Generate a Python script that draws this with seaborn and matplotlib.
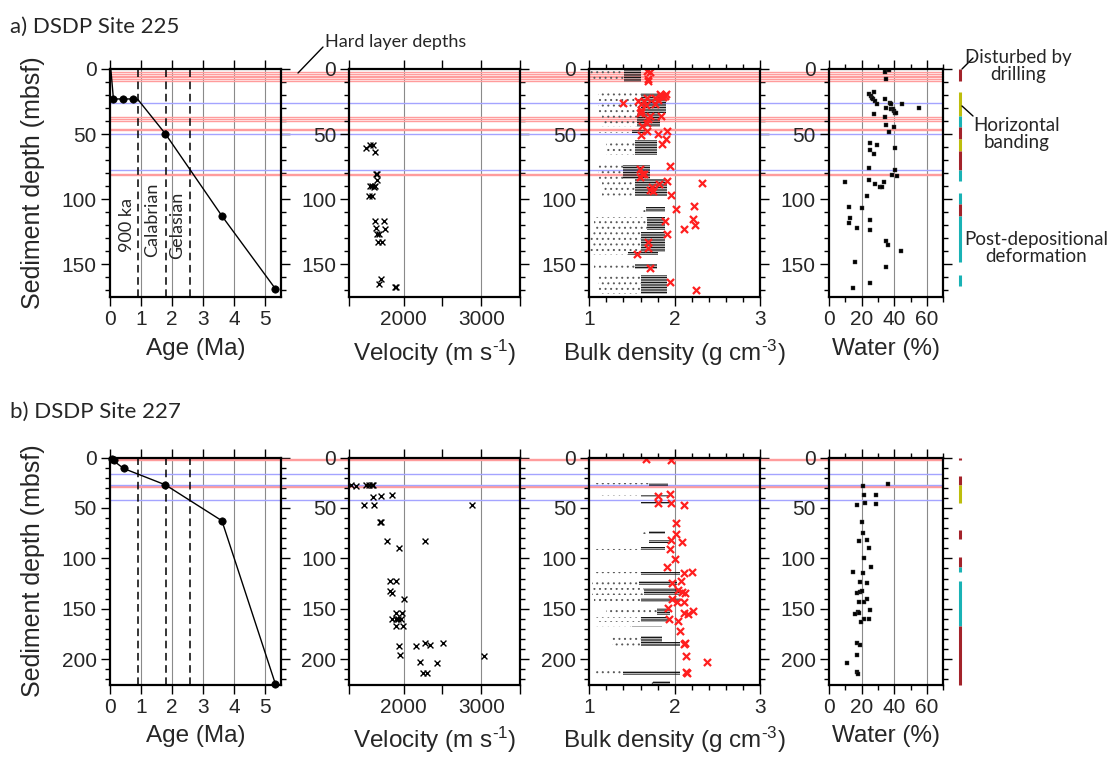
import matplotlib
matplotlib.use("Agg")
import numpy as np
import matplotlib.pyplot as plt
import seaborn as sns
from matplotlib.lines import Line2D
from matplotlib.ticker import FixedLocator, MultipleLocator

# ---------------- data ----------------
# hard layer depths (m)
hard_red_a = [2.0, 3.5, 5.0, 6.5, 8.0, 9.5, 37.2, 38.5, 39.7, 45.8, 46.8, 80.5, 81.5]
hard_blue_a = [26.0, 49.7, 77.5]
hard_red_b = [1.2, 2.0, 28.0, 28.8]
hard_blue_b = [16.0, 27.0, 42.3]

# age-depth model
age_line_a = [0.0, 0.03, 0.11, 0.43, 0.75, 0.9, 1.78, 3.6, 5.32]
agedep_line_a = [0.0, 1.0, 23.0, 23.0, 23.0, 23.5, 49.7, 112.8, 168.7]
age_pts_a = [0.11, 0.43, 0.75, 1.78, 3.6, 5.32]
agedep_pts_a = [23.0, 23.0, 23.0, 49.7, 112.8, 168.7]
age_line_b = [0.0, 0.09, 0.44, 1.78, 3.6, 5.32]
agedep_line_b = [0.0, 2.7, 10.9, 27.1, 62.7, 224.5]
age_pts_b = [0.06, 0.12, 0.44, 1.78, 3.6, 5.32]
agedep_pts_b = [1.8, 2.7, 10.9, 27.1, 62.7, 224.5]
stage_ages = [0.9, 1.8, 2.58]
stage_names = ["900 ka", "Calabrian", "Gelasian"]

# velocity (m/s)
vel_a = [1520, 1571, 1605, 1627, 1640, 1657, 1657, 1563, 1597, 1631, 1614, 1554, 1597,
         1627, 1743, 1640, 1765, 1657, 1683, 1670, 1726, 1713, 1683, 1884, 1897]
veldep_a = [60.3, 58.0, 58.0, 63.8, 80.3, 80.3, 85.4, 89.8, 89.8, 89.8, 90.5, 97.5, 97.5,
            117.0, 117.0, 122.0, 122.5, 126.4, 126.4, 133.0, 132.5, 161.0, 165.0, 167.0, 167.0]
vel_b = [1327, 1391, 1511, 1554, 1588, 1606, 1485, 1606, 1623, 1713, 1846, 1691, 1713, 1781,
         1940, 2279, 2884, 1820, 1901, 1820, 1849, 2004, 1897, 1974, 1854, 1897, 1931, 1966,
         1906, 1996, 1940, 2163, 2279, 2339, 2506, 1949, 3038, 2206, 2434, 2249, 2296]
veldep_b = [27.2, 28.0, 27.0, 27.0, 27.0, 27.0, 46.7, 38.8, 47.5, 37.8, 37.1, 63.9, 63.9, 82.3,
            89.3, 83.0, 46.7, 122.6, 122.0, 132.0, 134.5, 140.4, 154.3, 154.3, 160.2, 160.2,
            160.2, 160.2, 167.5, 167.5, 187.3, 187.3, 183.4, 186.3, 183.4, 195.5, 196.5, 202.8,
            203.8, 213.7, 213.7]

# bulk density: discrete samples (red crosses)
rho_a = [1.68, 1.71, 1.69, 1.69, 1.83, 1.86, 1.89, 1.84, 1.90, 1.77, 1.81, 1.68, 1.64, 1.60,
         1.57, 1.39, 1.66, 1.77, 1.60, 1.60, 1.59, 1.71, 1.84, 1.69, 1.68, 1.62, 1.68, 1.60,
         1.81, 1.91, 1.90, 1.85, 1.94, 1.59, 1.62, 1.59, 1.64, 1.82, 1.91, 1.73, 1.71, 1.75,
         2.32, 1.96, 2.23, 2.01, 2.22, 2.24, 2.11, 1.89, 1.91, 1.69, 1.69, 1.56, 1.71, 1.94, 2.25]
rhodep_a = [1.3, 2.3, 7.9, 9.2, 19.2, 21.3, 20.8, 20.5, 19.2, 22.6, 23.8, 22.6, 24.4, 26.9,
            24.4, 25.9, 27.7, 26.9, 31.5, 32.8, 34.0, 36.2, 36.2, 38.7, 41.3, 43.8, 47.7, 50.8,
            50.0, 47.7, 53.8, 57.2, 74.6, 76.4, 80.8, 82.8, 80.8, 87.9, 85.9, 90.5, 92.5, 93.8,
            87.2, 96.7, 105.4, 107.7, 114.9, 119.5, 122.5, 117.0, 126.4, 132.8, 137.4, 141.8,
            152.8, 163.6, 169.5]
rho_b = [1.66, 1.96, 1.81, 1.95, 1.81, 1.96, 2.11, 2.02, 2.01, 1.96, 2.09, 1.95, 2.00, 1.91,
         2.11, 2.20, 2.07, 1.97, 2.04, 2.09, 2.12, 1.97, 2.03, 2.11, 1.92, 2.11, 2.16, 2.22,
         1.93, 2.04, 2.06, 2.11, 2.12, 2.13, 2.38, 2.13, 2.14]
rhodep_b = [1.5, 2.5, 37.8, 36.4, 45.3, 45.3, 47.3, 64.5, 75.7, 81.7, 83.7, 90.3, 100.2, 108.1,
            114.0, 113.4, 122.3, 124.6, 131.2, 133.8, 134.5, 140.4, 142.8, 142.8, 149.3, 154.3,
            155.2, 152.3, 159.9, 161.6, 171.5, 185.0, 184.0, 196.5, 202.5, 212.5, 214.0]

# bulk density: continuous GRA log summarised per core section
core_top_a = [0.3, 18.7, 34.0, 46.5, 54.6, 73.8, 84.1, 105.9, 113.6, 125.0, 140.5, 149.5, 158.4]
core_bot_a = [9.7, 34.0, 44.5, 49.0, 66.2, 84.1, 97.5, 109.7, 123.9, 140.5, 143.0, 153.3, 172.6]
core_lo_a = [1.41, 1.60, 1.56, 1.50, 1.53, 1.40, 1.53, 1.67, 1.68, 1.60, 1.45, 1.53, 1.60]
core_hi_a = [1.60, 1.90, 1.83, 1.70, 1.79, 1.71, 1.91, 1.89, 1.89, 1.89, 1.80, 1.79, 1.91]
core_tail_a = [1.00, 1.10, 1.15, 1.10, 1.20, 1.10, 1.15, 1.60, 1.05, 1.00, 1.00, 1.05, 1.10]
core_top_b = [25.6, 36.8, 43.7, 72.5, 81.7, 88.3, 113.0, 122.9, 129.5, 139.4, 149.3, 157.6,
              167.0, 176.7, 183.3, 212.0, 222.0]
core_bot_b = [28.5, 39.4, 46.0, 75.7, 84.3, 91.6, 116.0, 126.2, 136.1, 143.7, 155.9, 162.6,
              168.4, 183.3, 187.0, 215.3, 225.0]
core_lo_b = [1.70, 1.60, 1.60, 1.70, 1.70, 1.60, 1.60, 1.58, 1.64, 1.60, 1.79, 1.60, 1.50,
             1.60, 1.60, 1.40, 1.75]
core_hi_b = [1.92, 1.94, 1.95, 1.89, 1.96, 1.89, 2.06, 2.03, 2.06, 2.06, 1.95, 1.92, 1.85,
             1.85, 2.06, 2.06, 1.95]
core_tail_b = [1.07, 1.10, 1.07, 1.60, 1.50, 1.05, 1.05, 1.03, 1.03, 1.05, 1.20, 1.08, 1.05,
               1.24, 1.27, 1.05, 1.70]

# water content (%)
water_a = [34.5, 36.5, 35.1, 27.7, 24.8, 25.6, 26.3, 26.9, 28.1, 29.7, 34.5, 37.1, 37.9, 35.1,
           37.9, 39.2, 40.0, 40.6, 41.2, 44.7, 55.0, 27.7, 34.5, 35.1, 39.6, 36.5, 25.2, 29.4,
           25.2, 27.7, 40.6, 24.8, 40.6, 41.6, 38.6, 24.8, 28.3, 31.4, 32.4, 33.4, 9.8, 23.2,
           12.5, 20.3, 12.9, 12.5, 17.0, 25.2, 25.2, 35.1, 35.9, 44.3, 16.0, 35.1, 25.2, 15.0]
waterdep_a = [2.0, 0.5, 7.7, 17.7, 19.5, 20.8, 22.6, 23.1, 24.6, 26.9, 23.3, 25.9, 26.9, 30.3,
              30.8, 30.8, 32.0, 33.6, 34.1, 26.7, 29.8, 34.6, 36.7, 43.1, 44.9, 48.5, 56.7,
              58.5, 61.8, 65.1, 60.5, 76.2, 77.9, 82.1, 81.5, 84.9, 88.5, 90.2, 90.2, 87.0,
              87.0, 97.2, 105.9, 106.7, 114.4, 118.2, 122.1, 116.2, 123.3, 131.8, 135.4, 139.7,
              148.5, 151.8, 164.1, 167.9]
water_b = [35.9, 20.7, 21.7, 28.5, 22.3, 28.9, 17.4, 20.3, 21.1, 18.5, 23.2, 24.2, 21.5, 25.6,
           15.0, 20.7, 19.1, 23.2, 17.4, 19.1, 20.1, 18.3, 21.5, 23.4, 25.2, 17.8, 18.3, 16.2,
           21.7, 24.8, 19.7, 17.4, 18.9, 17.0, 10.9, 17.4, 17.8]
waterdep_b = [26.5, 28.2, 37.1, 37.4, 45.4, 45.7, 47.0, 63.5, 74.4, 83.0, 82.0, 89.9, 99.2,
              108.4, 113.7, 114.7, 123.0, 124.6, 134.2, 133.5, 131.9, 142.8, 143.1, 140.4,
              151.0, 153.0, 154.0, 155.6, 160.2, 160.2, 162.6, 184.0, 186.3, 196.2, 203.2,
              213.1, 214.4]

# core observations (depth intervals)
obs_top_a = [0.3, 17.9, 36.2, 44.4, 54.1, 62.8, 77.2, 94.9, 103.3, 112.8, 158.0]
obs_bot_a = [9.3, 36.2, 44.4, 54.1, 62.8, 77.2, 85.9, 103.3, 112.8, 148.2, 166.2]
obs_kind_a = ["drill", "band", "post", "drill", "band", "drill", "post", "post", "drill", "post", "post"]
obs_top_b = [0.2, 18.0, 27.2, 71.8, 98.8, 108.1, 122.0, 166.8]
obs_bot_b = [2.5, 27.2, 44.7, 80.7, 108.1, 113.1, 166.8, 225.0]
obs_kind_b = ["drill", "drill", "band", "drill", "drill", "post", "post", "drill"]
obs_colors = {"drill": "#a3232a", "band": "#bdbd0c", "post": "#19b2b5"}

# ---------------- style ----------------
sns.set_style("ticks")
plt.rcParams["font.family"] = ["Liberation Sans", "DejaVu Sans"]
plt.rcParams["mathtext.fontset"] = "custom"
plt.rcParams["mathtext.rm"] = "Liberation Sans"
plt.rcParams["mathtext.it"] = "Liberation Sans:italic"
plt.rcParams["mathtext.bf"] = "Liberation Sans:bold"
plt.rcParams["hatch.linewidth"] = 0.7
SOFT = ["Lato", "DejaVu Sans"]

W, H = 1107, 758
fig = plt.figure(figsize=(W / 100, H / 100), dpi=100)
col_px = [(110, 171), (349.3, 170.7), (589.3, 170.7), (829, 114.3)]
row_px = [(69, 228), (457.5, 227)]


def fx(x):
    return x / W


def fy(y):
    return 1 - y / H


def make_ax(c, r):
    l, w = col_px[c]
    t, h = row_px[r]
    return fig.add_axes([l / W, 1 - (t + h) / H, w / W, h / H])


def style(ax, ymax, xlim, xmajor, xlabels, xminor, grid, xlabel):
    ax.set_xlim(*xlim)
    ax.set_ylim(ymax, 0)
    ax.xaxis.set_major_locator(FixedLocator(xmajor))
    ax.set_xticklabels(xlabels)
    ax.xaxis.set_minor_locator(FixedLocator(xminor))
    ax.yaxis.set_major_locator(MultipleLocator(50))
    ax.yaxis.set_minor_locator(MultipleLocator(10))
    ax.tick_params(which="both", direction="out", top=True, right=True, bottom=True,
                   left=True, width=1.0, color="black", labelsize=15, pad=3)
    ax.tick_params(which="major", length=6.5)
    ax.tick_params(which="minor", length=3.5)
    for g in grid:
        ax.axvline(g, color="#8a8a8a", lw=0.8, zorder=0.5)
    for s in ax.spines.values():
        s.set_linewidth(1.6)
        s.set_color("black")
        s.set_zorder(5)
    ax.set_ylabel("")
    ax.set_xlabel(xlabel, fontsize=17.5, labelpad=6)


rows = [
    dict(ymax=175, reds=hard_red_a, blues=hard_blue_a, al=age_line_a, ad=agedep_line_a,
         ap=age_pts_a, apd=agedep_pts_a, v=vel_a, vd=veldep_a, r=rho_a, rd=rhodep_a,
         ct=core_top_a, cb=core_bot_a, clo=core_lo_a, chi=core_hi_a, ctl=core_tail_a,
         w=water_a, wd=waterdep_a, ot=obs_top_a, ob=obs_bot_a, ok=obs_kind_a,
         title="a) DSDP Site 225", title_y=27),
    dict(ymax=225, reds=hard_red_b, blues=hard_blue_b, al=age_line_b, ad=agedep_line_b,
         ap=age_pts_b, apd=agedep_pts_b, v=vel_b, vd=veldep_b, r=rho_b, rd=rhodep_b,
         ct=core_top_b, cb=core_bot_b, clo=core_lo_b, chi=core_hi_b, ctl=core_tail_b,
         w=water_b, wd=waterdep_b, ot=obs_top_b, ob=obs_bot_b, ok=obs_kind_b,
         title="b) DSDP Site 227", title_y=412),
]

for ri, R in enumerate(rows):
    axs = [make_ax(c, ri) for c in range(4)]
    ax_age, ax_vel, ax_rho, ax_w = axs

    # hard-layer lines crossing all panels
    for c, ax in enumerate(axs):
        ext = 1.0 if c == 3 else (col_px[c + 1][0] - col_px[c][0]) / col_px[c][1]
        for d in R["reds"]:
            ax.axhline(d, xmin=0, xmax=ext, color="#ff9c9c", lw=1.0, clip_on=False, zorder=1)
        for d in R["blues"]:
            ax.axhline(d, xmin=0, xmax=ext, color="#a4a4ff", lw=1.0, clip_on=False, zorder=1)

    # age-depth
    for a in stage_ages:
        ax_age.axvline(a, color="black", lw=1.1, ls=(0, (5, 3)), zorder=1.5)
    sns.lineplot(x=R["al"], y=R["ad"], sort=False, estimator=None, color="black", lw=1.0,
                 ax=ax_age, zorder=3)
    sns.scatterplot(x=R["ap"], y=R["apd"], color="black", s=28, edgecolor="black",
                    linewidth=0.5, ax=ax_age, zorder=4, clip_on=False, legend=False)
    style(ax_age, R["ymax"], (0, 5.5), [0, 1, 2, 3, 4, 5], ["0", "1", "2", "3", "4", "5"],
          [], [1, 2, 3, 4, 5], "Age (Ma)")
    ax_age.set_ylabel("Sediment depth (mbsf)", fontsize=18, labelpad=12)

    # velocity
    sns.scatterplot(x=R["v"], y=R["vd"], marker="x", color="black", s=18, linewidth=1.0,
                    ax=ax_vel, zorder=3, legend=False)
    style(ax_vel, R["ymax"], (1300, 3500), [1300, 2000, 2500, 3000, 3500],
          ["", "2000", "", "3000", ""], [], [2000, 3000],
          r"Velocity (m s$^{\text{-1}}$)")

    # bulk density: sparse tails (dots) and dense core of each log section
    ct = np.array(R["ct"])
    cb = np.array(R["cb"])
    ax_rho.barh(y=(ct + cb) / 2, width=np.array(R["clo"]) - np.array(R["ctl"]),
                left=R["ctl"], height=cb - ct, facecolor="none", edgecolor="#5a5a5a",
                linewidth=0, hatch="...", zorder=1.6)
    ax_rho.barh(y=(ct + cb) / 2, width=np.array(R["chi"]) - np.array(R["clo"]),
                left=R["clo"], height=cb - ct, facecolor="none", edgecolor="#111111",
                linewidth=0, hatch="----------", zorder=1.7)
    sns.scatterplot(x=R["r"], y=R["rd"], marker="x", color="#ff1f1f", s=26, linewidth=1.6,
                    ax=ax_rho, zorder=3, legend=False)
    style(ax_rho, R["ymax"], (1, 3), [1, 2, 3], ["1", "2", "3"],
          [1.2, 1.4, 1.6, 1.8, 2.2, 2.4, 2.6, 2.8], [2],
          r"Bulk density (g cm$^{\text{-3}}$)")

    # water
    sns.scatterplot(x=R["w"], y=R["wd"], marker="s", color="black", s=7, linewidth=0.3,
                    edgecolor="#444444", ax=ax_w, zorder=3, legend=False)
    style(ax_w, R["ymax"], (0, 70), [0, 20, 40, 60], ["0", "20", "40", "60"],
          [10, 30, 50, 70], [20, 40, 60], "Water (%)")

    # observation bars to the right
    xbar = 70 + (960 - 943.3) / (114.3 / 70)
    ax_w.vlines([xbar] * len(R["ot"]), R["ot"], R["ob"],
                colors=[obs_colors[k] for k in R["ok"]], lw=2.2, clip_on=False, zorder=3)

    fig.text(fx(10), fy(R["title_y"]), R["title"], fontsize=16, family=SOFT,
             ha="left", va="center")

    if ri == 0:
        for a, name, xt, yt in zip(stage_ages, stage_names, [0.54, 1.35, 2.15], [120, 116, 120]):
            ax_age.text(xt, yt, name, rotation=90, ha="center", va="center",
                        fontsize=13, family=SOFT, zorder=4)

# annotations
fig.text(fx(325), fy(42), "Hard layer depths", fontsize=13, family=SOFT, ha="left", va="center")
fig.add_artist(Line2D([fx(323), fx(298)], [fy(47), fy(73)], color="black", lw=1.0))
fig.text(fx(1018), fy(66), "Disturbed by\ndrilling", fontsize=13.5, family=SOFT,
         ha="center", va="center", linespacing=1.05)
fig.add_artist(Line2D([fx(973), fx(962)], [fy(58), fy(69)], color="black", lw=1.0))
fig.text(fx(1017), fy(134), "Horizontal\nbanding", fontsize=13.5, family=SOFT,
         ha="center", va="center", linespacing=1.05)
fig.add_artist(Line2D([fx(973), fx(962)], [fy(116), fy(106)], color="black", lw=1.0))
fig.text(fx(1036), fy(248), "Post-depositional\ndeformation", fontsize=13.5, family=SOFT,
         ha="center", va="center", linespacing=1.05)

fig.savefig("out.png", dpi=100)
